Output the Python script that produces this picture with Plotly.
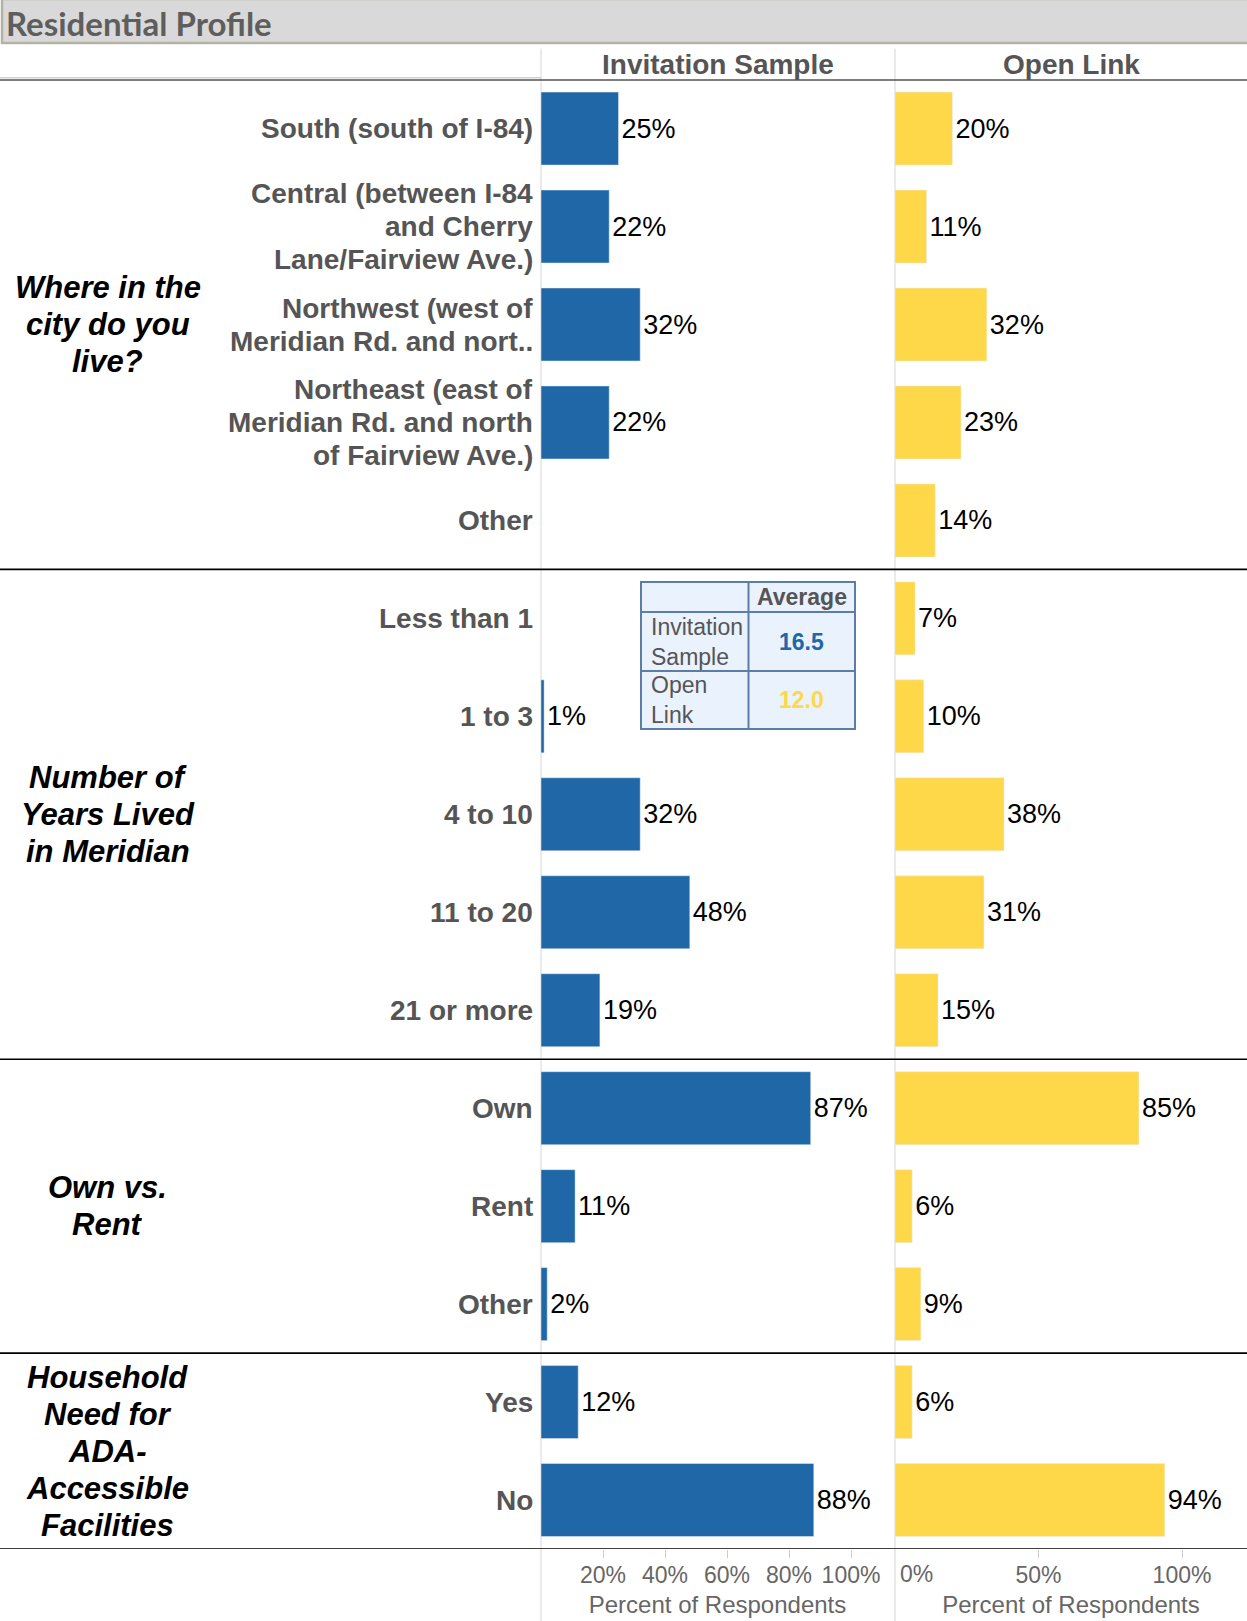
import plotly.graph_objects as go

W, H = 1247, 1621

# ---------------- data ----------------
group_titles = [
    "Where in the<br>city do you<br>live?",
    "Number of<br>Years Lived<br>in Meridian",
    "Own vs.<br>Rent",
    "Household<br>Need for<br>ADA-<br>Accessible<br>Facilities",
]
group_sizes = [5, 5, 3, 2]
categories = [
    "South (south of I-84)",
    "Central (between I-84<br>and Cherry<br>Lane/Fairview Ave.)",
    "Northwest (west of<br>Meridian Rd. and nort..",
    "Northeast (east of<br>Meridian Rd. and north<br>of Fairview Ave.)",
    "Other",
    "Less than 1",
    "1 to 3",
    "4 to 10",
    "11 to 20",
    "21 or more",
    "Own",
    "Rent",
    "Other",
    "Yes",
    "No",
]
invitation = [25, 22, 32, 22, None, None, 1, 32, 48, 19, 87, 11, 2, 12, 88]
open_link = [20, 11, 32, 23, 14, 7, 10, 38, 31, 15, 85, 6, 9, 6, 94]
panel_titles = ["Invitation Sample", "Open Link"]
inv_ticks = [20, 40, 60, 80, 100]
open_ticks = [0, 50, 100]
axis_title = "Percent of Respondents"
avg_header = "Average"
avg_rows = ["Invitation<br>Sample", "Open<br>Link"]
avg_values = [16.5, 12.0]
chart_title = "Residential Profile"

# ---------------- style ----------------
BLUE = "#1F67A7"
YELLOW = "#FFD84A"
GRAY_TXT = "#555555"
AX_TXT = "#666666"
FONT = "Arial"

TOP, BOT = 79.6, 1549.0
X1L, X1R, X2L = 541.0, 894.0, 895.0


def px(x):
    return x / W


def py(y):
    return 1 - y / H


rows = list(range(len(categories)))

fig = go.Figure()
fig.add_trace(go.Bar(
    x=invitation, y=rows, orientation="h", marker_color=BLUE, width=0.745,
    text=[f"{v}%" if v is not None else "" for v in invitation],
    textposition="outside", constraintext="none", cliponaxis=False,
    textfont=dict(size=27, color="black", family=FONT),
    xaxis="x", yaxis="y", hoverinfo="skip", showlegend=False,
))
fig.add_trace(go.Bar(
    x=open_link, y=rows, orientation="h", marker_color=YELLOW, width=0.745,
    text=[f"{v}%" if v is not None else "" for v in open_link],
    textposition="outside", constraintext="none", cliponaxis=False,
    textfont=dict(size=27, color="black", family=FONT),
    xaxis="x2", yaxis="y", hoverinfo="skip", showlegend=False,
))

inv_range = (X1R - X1L) / 310.0 * 100
open_range = (W - X2L) / 287.0 * 100

shapes = []
# title bar
shapes.append(dict(type="rect", xref="paper", yref="paper", x0=px(2), x1=px(W + 2), y0=py(43), y1=py(-1),
                   fillcolor="#D9D9D9", line=dict(color="#B5B2A5", width=2.5), layer="below"))
# vertical panel lines
for xl in (X1L, X2L):
    shapes.append(dict(type="line", xref="paper", yref="paper", x0=px(xl), x1=px(xl),
                       y0=0, y1=py(48.6), line=dict(color="#D6D6D6", width=1), layer="below"))
# thin gray line above header rule on the row-header side
shapes.append(dict(type="line", xref="paper", yref="paper", x0=0, x1=px(X1L), y0=py(77.8), y1=py(77.8),
                   line=dict(color="#BBBBBB", width=1)))
# horizontal separators
bounds = [-0.5]
acc = -0.5
for s in group_sizes:
    acc += s
    bounds.append(acc)
for i, b in enumerate(bounds):
    shapes.append(dict(type="line", xref="paper", yref="y", x0=0, x1=1, y0=b, y1=b,
                       line=dict(color="black", width=2 if i == 0 else 1.6)))

annotations = []
annotations.append(dict(text=chart_title, xref="paper", yref="paper", x=px(4), y=py(23),
                        xanchor="left", yanchor="middle", showarrow=False,
                        font=dict(family="Lato, sans-serif", size=33, color="#5E5E5E", weight="bold")))
for t, (l, r) in zip(panel_titles, [(X1L, X1R), (X2L, W)]):
    annotations.append(dict(text=t, xref="paper", yref="paper", x=px((l + r) / 2), y=py(65),
                            xanchor="center", yanchor="middle", showarrow=False,
                            font=dict(family=FONT, size=28, color=GRAY_TXT, weight="bold")))

# category labels, one annotation per line, placed on the y axis scale
CAT_LS = 33.0
for r, cat in zip(rows, categories):
    lines = cat.split("<br>")
    n = len(lines)
    for k, ln in enumerate(lines):
        annotations.append(dict(text=ln, xref="paper", yref="y", x=px(534.5), y=r,
                                yshift=-(k - (n - 1) / 2) * CAT_LS,
                                xanchor="right", yanchor="middle", showarrow=False,
                                font=dict(family=FONT, size=28, color=GRAY_TXT, weight="bold")))

# group titles
GRP_LS = 37.0
start = 0
for gt, s in zip(group_titles, group_sizes):
    lines = gt.split("<br>")
    n = len(lines)
    for k, ln in enumerate(lines):
        annotations.append(dict(text=ln, xref="paper", yref="y", x=px(107.5), y=start + (s - 1) / 2,
                                yshift=-(k - (n - 1) / 2) * GRP_LS,
                                xanchor="center", yanchor="middle", showarrow=False,
                                font=dict(family=FONT, size=31, color="black", weight="bold", style="italic")))
    start += s

# zero tick label for open-link axis
annotations.append(dict(text=f"{open_ticks[0]}%", xref="x2", yref="paper", x=0, y=py(1574),
                        xanchor="left", yanchor="middle", xshift=3, showarrow=False,
                        font=dict(family=FONT, size=23, color=AX_TXT)))

# average table
TX0, TXM, TX1 = 641, 748.5, 855
TY = [582, 612, 671, 729]
TB = "#5B7DA6"
shapes.append(dict(type="rect", xref="paper", yref="paper", x0=px(TX0), x1=px(TX1), y0=py(TY[3]), y1=py(TY[0]),
                   fillcolor="#EAF2FD", line=dict(color=TB, width=2)))
shapes.append(dict(type="line", xref="paper", yref="paper", x0=px(TXM), x1=px(TXM), y0=py(TY[3]), y1=py(TY[0]),
                   line=dict(color=TB, width=2)))
for yy in TY[1:3]:
    shapes.append(dict(type="line", xref="paper", yref="paper", x0=px(TX0), x1=px(TX1), y0=py(yy), y1=py(yy),
                       line=dict(color=TB, width=2)))
annotations.append(dict(text=avg_header, xref="paper", yref="paper", x=px((TXM + TX1) / 2), y=py((TY[0] + TY[1]) / 2),
                        xanchor="center", yanchor="middle", showarrow=False,
                        font=dict(family=FONT, size=23, color=GRAY_TXT, weight="bold")))
for i, (lab, val, col) in enumerate(zip(avg_rows, avg_values, [BLUE, YELLOW])):
    yc = (TY[i + 1] + TY[i + 2]) / 2
    annotations.append(dict(text=lab, xref="paper", yref="paper", x=px(TX0 + 8), y=py(yc),
                            xanchor="left", yanchor="middle", align="left", showarrow=False,
                            font=dict(family=FONT, size=23, color=GRAY_TXT)))
    annotations.append(dict(text=f"{val:.1f}", xref="paper", yref="paper", x=px((TXM + TX1) / 2), y=py(yc),
                            xanchor="center", yanchor="middle", showarrow=False,
                            font=dict(family=FONT, size=23, color=col, weight="bold")))

fig.update_layout(
    width=W, height=H, margin=dict(l=0, r=0, t=0, b=0),
    paper_bgcolor="white", plot_bgcolor="rgba(0,0,0,0)",
    font=dict(family=FONT),
    barmode="overlay", showlegend=False,
    shapes=shapes, annotations=annotations,
    xaxis=dict(domain=[px(X1L), px(X1R)], range=[0, inv_range], anchor="y",
               tickvals=inv_ticks, ticktext=[f"{t}%" for t in inv_ticks],
               ticks="outside", ticklen=8, tickcolor="#CCCCCC",
               tickfont=dict(family=FONT, size=23, color=AX_TXT), ticklabelstandoff=-3,
               showgrid=False, zeroline=False, showline=False,
               title=dict(text=axis_title, font=dict(family=FONT, size=24, color=AX_TXT), standoff=9)),
    xaxis2=dict(domain=[px(X2L), 1], range=[0, open_range], anchor="y",
                tickvals=open_ticks[1:], ticktext=[f"{t}%" for t in open_ticks[1:]],
                ticks="outside", ticklen=8, tickcolor="#CCCCCC",
                tickfont=dict(family=FONT, size=23, color=AX_TXT), ticklabelstandoff=-3,
                showgrid=False, zeroline=False, showline=False,
                title=dict(text=axis_title, font=dict(family=FONT, size=24, color=AX_TXT), standoff=9)),
    yaxis=dict(domain=[py(BOT), py(TOP)], range=[len(categories) - 0.5, -0.5], anchor="x",
               tickvals=rows, showticklabels=False, ticks="",
               showgrid=False, zeroline=False, showline=False),
)

fig.write_html("out.html", config={"displayModeBar": False},
               post_script="document.body.style.margin='0';document.body.style.overflow='hidden';")
